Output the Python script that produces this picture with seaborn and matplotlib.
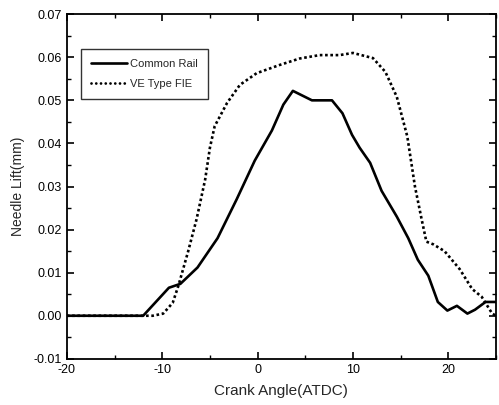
import matplotlib
matplotlib.use("Agg")
import matplotlib.pyplot as plt
from matplotlib.ticker import MultipleLocator, FormatStrFormatter
import seaborn as sns
import pandas as pd

# Needle lift traces versus crank angle
cr_angle = [-20, -12, -9.3, -8.1, -6.3, -4.2, -2.2, -0.3, 1.5, 2.7, 3.7, 5.7, 7.8,
            8.9, 9.9, 10.7, 11.8, 13.0, 14.6, 15.8, 16.8, 17.9, 18.9, 19.9, 20.9,
            22.0, 22.8, 23.9, 25.0]
cr_lift = [0.0, 0.0, 0.0065, 0.0074, 0.0112, 0.018, 0.027, 0.036, 0.043, 0.049, 0.0522,
           0.050, 0.050, 0.047, 0.042, 0.039, 0.0355, 0.029, 0.023, 0.018, 0.013,
           0.0093, 0.0032, 0.0012, 0.0023, 0.0005, 0.0014, 0.0032, 0.0032]

ve_angle = [-20, -12, -11.0, -9.9, -8.9, -8.3, -7.3, -6.4, -5.5, -5.0, -4.5, -3.2,
            -1.85, -0.1, 2.3, 4.4, 6.5, 8.6, 10.0, 12.1, 13.4, 14.6, 15.7, 16.5,
            17.2, 17.7, 18.4, 19.6, 21.2, 22.5, 23.5, 24.6, 25.0]
ve_lift = [0.0, 0.0, 0.0, 0.0005, 0.003, 0.007, 0.0148, 0.0224, 0.0316, 0.039, 0.044,
           0.0494, 0.0536, 0.0563, 0.0582, 0.0597, 0.0605, 0.0605, 0.061, 0.0598,
           0.0566, 0.0508, 0.0416, 0.030, 0.0224, 0.0172, 0.0166, 0.015, 0.0108,
           0.0062, 0.0044, 0.0005, 0.0]

series_names = ["Common Rail", "VE Type FIE"]

df = pd.concat([
    pd.DataFrame({"angle": cr_angle, "lift": cr_lift, "series": series_names[0]}),
    pd.DataFrame({"angle": ve_angle, "lift": ve_lift, "series": series_names[1]}),
])

sns.set_style("ticks")
plt.rcParams["font.family"] = ["Liberation Sans", "DejaVu Sans"]

fig = plt.figure(figsize=(4.99, 4.05), dpi=100)
ax = fig.add_axes([0.134, 0.114, 0.860, 0.851])

sns.lineplot(data=df, x="angle", y="lift", hue="series", style="series",
             palette=["black", "black"],
             dashes={series_names[0]: "", series_names[1]: (1, 1)},
             linewidth=1.9, sort=False, estimator=None, ax=ax)

ax.set_xlim(-20, 25)
ax.set_ylim(-0.01, 0.07)
ax.xaxis.set_major_locator(MultipleLocator(10))
ax.xaxis.set_minor_locator(MultipleLocator(5))
ax.yaxis.set_major_locator(MultipleLocator(0.01))
ax.yaxis.set_minor_locator(MultipleLocator(0.005))
ax.yaxis.set_major_formatter(FormatStrFormatter("%.2f"))
ax.xaxis.set_major_formatter(FormatStrFormatter("%d"))

ax.tick_params(which="both", direction="in", top=True, right=True,
               labelsize=9, colors="black")
ax.tick_params(which="major", length=5, width=1.2)
ax.tick_params(which="minor", length=3, width=1.0)
for sp in ax.spines.values():
    sp.set_linewidth(1.3)
    sp.set_color("black")

ax.set_xlabel("Crank Angle(ATDC)", fontsize=11, labelpad=6)
ax.set_ylabel("Needle Lift(mm)", fontsize=10, labelpad=6)

leg = ax.legend(title=None, loc="upper left", bbox_to_anchor=(0.033, 0.898),
                fontsize=8, frameon=True, fancybox=False, handlelength=3.2,
                borderpad=0.9, labelspacing=0.9, handletextpad=0.3,
                borderaxespad=0.0)
leg.get_frame().set_edgecolor("black")
leg.get_frame().set_linewidth(1.0)

# round dots for the VE trace and its legend handle
dotted = [ln for ln in ax.lines if ln.get_label() == series_names[1]] or [ax.lines[1]]
for ln in dotted + [leg.get_lines()[1]]:
    ln.set_linewidth(2.0)
    ln.set_linestyle((0, (0.01, 1.7)))
    ln.set_dash_capstyle("round")

fig.savefig("out.png", dpi=100)
